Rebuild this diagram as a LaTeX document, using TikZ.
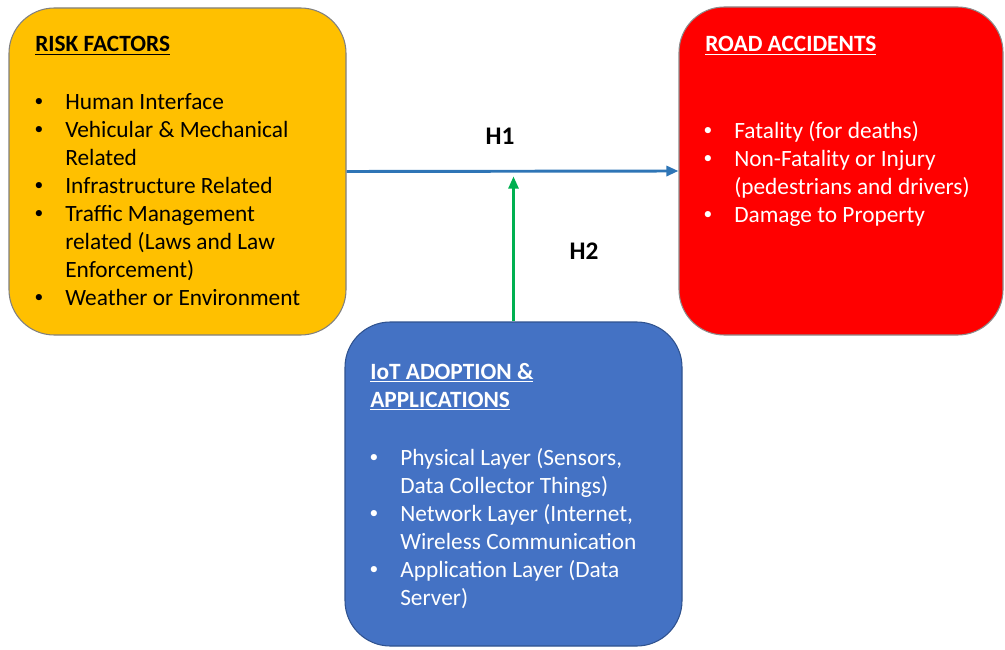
\documentclass[tikz,border=0pt]{standalone}
\usepackage{fontspec}
\usepackage{graphicx}
\setmainfont{Carlito}
\usetikzlibrary{arrows.meta}
\definecolor{riskyellow}{HTML}{FFC000}
\definecolor{accred}{HTML}{FF0000}
\definecolor{iotblue}{HTML}{4472C4}
\definecolor{iotedge}{HTML}{2F528F}
\definecolor{linkblue}{HTML}{2E75B6}
\definecolor{linkgreen}{HTML}{00B050}
\newcommand{\itm}[1]{\makebox[24pt][l]{\hspace{1pt}\raisebox{0.12em}{\scalebox{0.75}{\textbullet}}}#1}
\newcommand{\cnt}[1]{\hspace*{24pt}#1}
\begin{document}
\begin{tikzpicture}[>={Triangle[length=9pt,width=7.5pt]},x=0.75pt,y=-0.75pt,
  box/.style={rounded corners=34pt,line width=0.8pt,inner sep=0pt},
  head/.style={anchor=base west,inner sep=0pt,align=left,
    font=\fontsize{17.5}{21}\selectfont\bfseries},
  items/.style={anchor=north west,inner sep=0pt,align=left,
    font=\fontsize{17.5}{21}\selectfont},
  hyp/.style={inner sep=0pt,font=\fontsize{19}{21}\selectfont\bfseries}]
\useasboundingbox (0,0) rectangle (1005,649);
\node[box,fill=riskyellow,draw=black!50,minimum width=252.75pt,minimum height=245.25pt] (risk) at (177.5,171.5) {};
\node[box,fill=accred,draw=black!45,minimum width=243pt,minimum height=246pt] (road) at (841,171) {};
\node[box,fill=iotblue,draw=iotedge,minimum width=252.75pt,minimum height=243pt] (iot) at (513.5,484) {};
\node[head] (riskhead) at (35,52) {\underline{RISK FACTORS}};
\node[items] (risklist) at (33,93) {\itm{Human Interface}\\\itm{Vehicular \& Mechanical}\\\cnt{Related}\\
  \itm{Infrastructure Related}\\\itm{Traffic Management}\\\cnt{related (Laws and Law}\\
  \cnt{Enforcement)}\\\itm{Weather or Environment}};
\node[head,text=white] (roadhead) at (705,52) {\underline{ROAD ACCIDENTS}};
\node[items,text=white] (roadlist) at (702,121) {\itm{Fatality (for deaths)}\\\itm{Non-Fatality or Injury}\\
  \cnt{(pedestrians and drivers)}\\\itm{Damage to Property}};
\node[head,text=white] (iothead) at (370,407) {\underline{IoT ADOPTION \&}\\\underline{APPLICATIONS}};
\node[items,text=white] (iotlist) at (368,448) {\itm{Physical Layer (Sensors,}\\\cnt{Data Collector Things)}\\
  \itm{Network Layer (Internet,}\\\cnt{Wireless Communication}\\\itm{Application Layer (Data}\\\cnt{Server)}};
\draw[->,linkblue,line width=2.2pt] (risk.east) -- (road.west);
\draw[->,linkgreen,line width=1.75pt,shorten >=3.75pt] (iot.north) -- (iot.north |- risk.east);
\node[hyp] (h1) at (500,136.5) {H1};
\node[hyp] (h2) at (584,251) {H2};
\end{tikzpicture}
\end{document}
